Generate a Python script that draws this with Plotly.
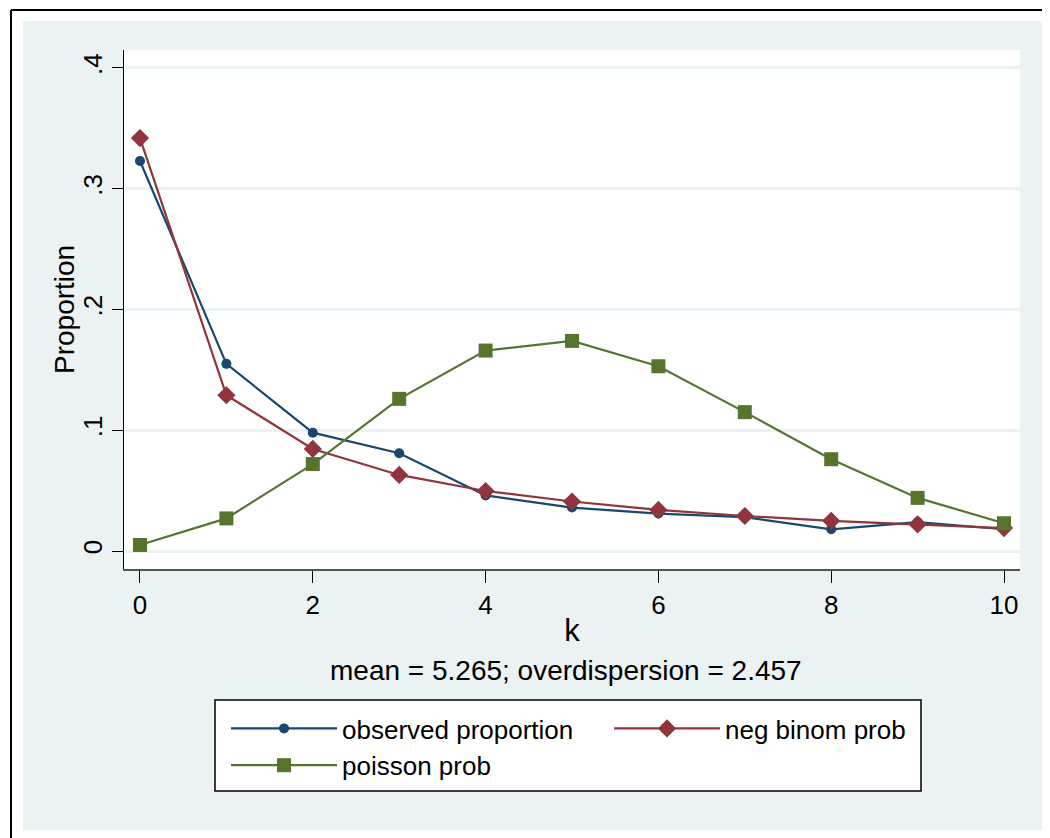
import plotly.graph_objects as go

# k values and proportions
k = [0, 1, 2, 3, 4, 5, 6, 7, 8, 9, 10]
observed = [0.323, 0.155, 0.098, 0.081, 0.046, 0.036, 0.031, 0.028, 0.018, 0.024, 0.018]
negbinom = [0.342, 0.129, 0.0845, 0.063, 0.0497, 0.041, 0.034, 0.029, 0.025, 0.022, 0.019]
poisson = [0.005, 0.027, 0.072, 0.126, 0.166, 0.174, 0.153, 0.115, 0.076, 0.044, 0.023]

y_ticks = [0, 0.1, 0.2, 0.3, 0.4]
y_labels = ['0', '.1', '.2', '.3', '.4']

NAVY = '#1A476F'
MAROON = '#90353B'
GREEN = '#55752F'
BLUISH = '#EAF2F3'
FONT = 'Liberation Sans, Arial, sans-serif'

# page body has an 8px margin, so the figure is drawn 8px in from the window edge
OFF = 8
W, H = 1050 - OFF, 838 - OFF
L, R, T, B = 124 - OFF, 30, 50 - OFF, 269
pw, ph = W - L - R, H - T - B


def px_x(v):
    # window pixel -> paper fraction
    return (v - OFF - L) / pw


def px_y(v):
    return (H - B - (v - OFF)) / ph


fig = go.Figure()
fig.add_trace(go.Scatter(x=k, y=observed, name='observed proportion', mode='lines+markers',
                         line=dict(color=NAVY, width=2.2),
                         marker=dict(symbol='circle', size=10, color=NAVY), legend='legend'))
fig.add_trace(go.Scatter(x=k, y=negbinom, name='neg binom prob', mode='lines+markers',
                         line=dict(color=MAROON, width=2.2),
                         marker=dict(symbol='diamond', size=14, color=MAROON), legend='legend2'))
fig.add_trace(go.Scatter(x=k, y=poisson, name='poisson prob', mode='lines+markers',
                         line=dict(color=GREEN, width=2.2),
                         marker=dict(symbol='square', size=14, color=GREEN), legend='legend'))

# Stata-like outer frame: white page, black edge, bluish-gray graph region, legend box
shapes = [
    dict(type='rect', xref='paper', yref='paper', x0=px_x(23), x1=px_x(1048), y0=px_y(830), y1=px_y(21),
         fillcolor=BLUISH, line=dict(width=0), layer='below'),
    dict(type='rect', xref='paper', yref='paper', x0=0, x1=1, y0=0, y1=1,
         fillcolor='white', line=dict(width=0), layer='below'),
    dict(type='rect', xref='paper', yref='paper', x0=px_x(215), x1=px_x(921), y0=px_y(791), y1=px_y(700),
         fillcolor='white', line=dict(color='black', width=1.5), layer='below'),
    dict(type='line', xref='paper', yref='paper', x0=px_x(11), x1=px_x(11), y0=px_y(838), y1=px_y(10),
         line=dict(color='black', width=2), layer='below'),
    dict(type='line', xref='paper', yref='paper', x0=px_x(11), x1=px_x(1050), y0=px_y(10), y1=px_y(10),
         line=dict(color='black', width=2), layer='below'),
]

leg_style = dict(orientation='v', xanchor='left', yanchor='top', bgcolor='rgba(0,0,0,0)',
                 borderwidth=0, font=dict(size=26), itemwidth=106, tracegroupgap=0)

fig.update_layout(
    width=W, height=H,
    margin=dict(l=L, r=R, t=T, b=B, pad=0),
    paper_bgcolor='white',
    plot_bgcolor='white',
    font=dict(family=FONT, size=26, color='black'),
    shapes=shapes,
    showlegend=True,
    legend=dict(x=px_x(226), y=px_y(705), **leg_style),
    legend2=dict(x=px_x(609), y=px_y(705), **leg_style),
    annotations=[
        dict(text='mean = 5.265; overdispersion = 2.457', xref='paper', yref='paper',
             x=px_x(566), y=px_y(670), xanchor='center', yanchor='middle', showarrow=False,
             font=dict(size=28)),
        dict(text='Proportion', xref='paper', yref='paper', textangle=-90,
             x=px_x(64), y=px_y(310), xanchor='center', yanchor='middle', showarrow=False,
             font=dict(size=28)),
    ],
)

fig.update_xaxes(range=[-0.185, 10.185], tickvals=[0, 2, 4, 6, 8, 10],
                 ticks='outside', ticklen=12, tickwidth=1, tickcolor='black',
                 showline=True, linecolor='#555555', linewidth=2,
                 showgrid=False, zeroline=False, ticklabelstandoff=0,
                 title=dict(text='k', standoff=0), tickfont=dict(size=26))
fig.update_yaxes(range=[-0.0149, 0.4149], tickvals=y_ticks, ticktext=y_labels, tickangle=-90,
                 ticks='outside', ticklen=11, tickwidth=1, tickcolor='black',
                 showline=True, linecolor='black', linewidth=1,
                 showgrid=True, gridcolor=BLUISH, gridwidth=3, zeroline=False,
                 tickfont=dict(size=26))

fig.write_html('out.html')
